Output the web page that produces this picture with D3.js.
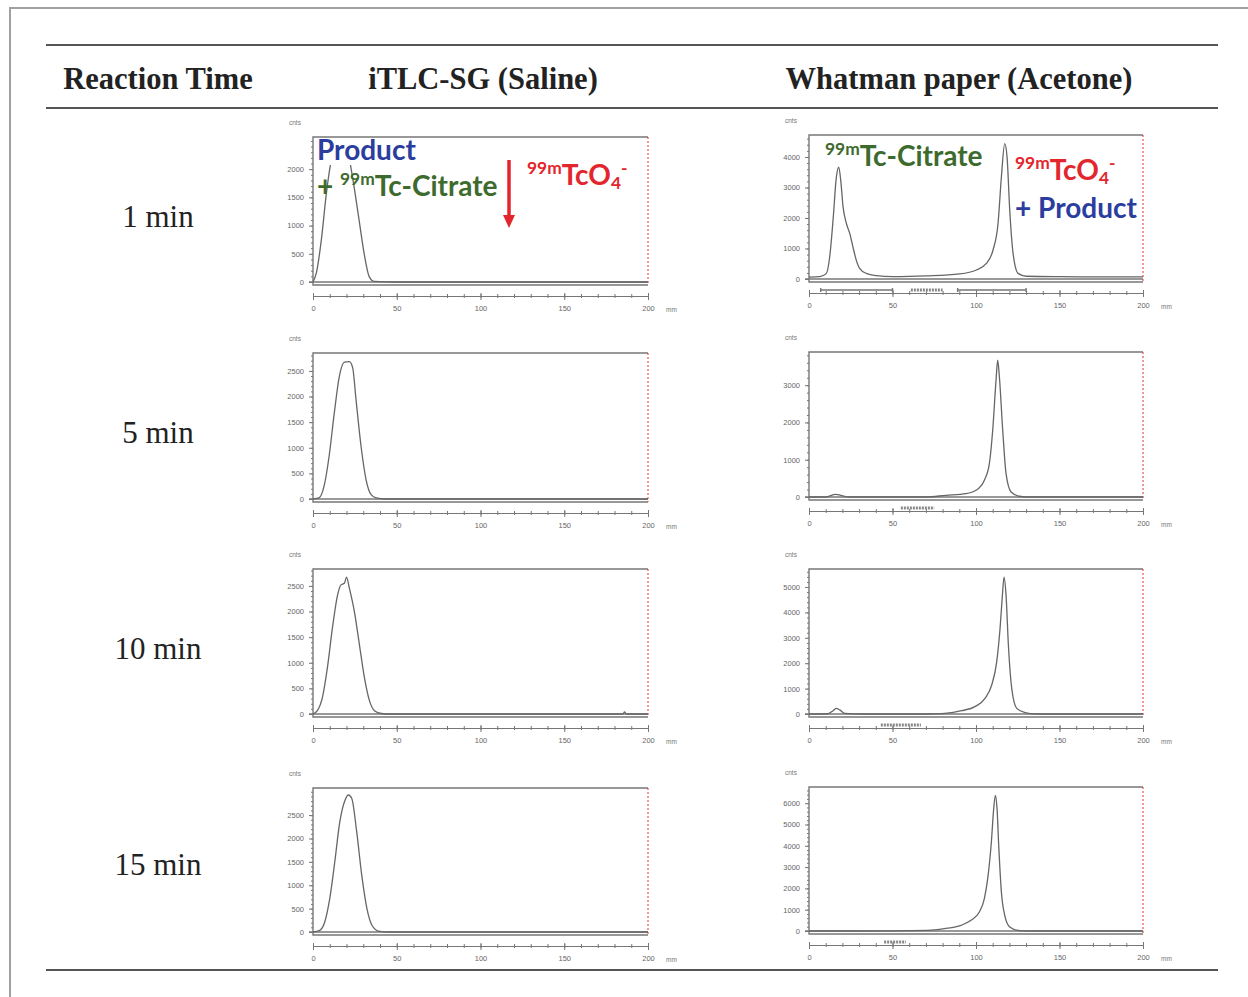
<!DOCTYPE html>
<meta charset="utf-8">
<script src="https://d3js.org/d3.v7.min.js"></script>
<style>
body { margin: 0; background: #fff; }
svg { display: block; }
.head { font-family: "Liberation Serif", "Times New Roman", serif; font-weight: bold; font-size: 30.5px; fill: #222; }
.rowlab { font-family: "Liberation Serif", "Times New Roman", serif; font-size: 31px; fill: #222; }
.axis text { font-family: "Liberation Sans", Arial, sans-serif; font-size: 7.5px; fill: #666; }
.axis path, .axis line { stroke: #777; }
.note { font-family: Lato, "Open Sans", sans-serif; font-weight: bold; }
</style>
<body>
<div class="chart"></div>
<script>

// table text
var colHeaders = ["Reaction Time", "iTLC-SG (Saline)", "Whatman paper (Acetone)"];
var rowLabels = ["1 min", "5 min", "10 min", "15 min"];
var xTicks = [0, 50, 100, 150, 200];

// iTLC-SG (saline) radio-chromatograms, [distance mm, counts]
var saline1 = [[0,0],[2,160],[5,750],[8,1575],[11,2165],[13,2340],[16,2420],[19,2400],[21.5,2200],[24.5,1690],[27.5,1100],[30.5,510],[33.5,100],[36.5,10],[50,0],[200,0]];
var saline5 = [[0,0],[3.6,20],[6.6,250],[9.6,830],[12.7,1675],[15.7,2390],[18.7,2670],[21.7,2680],[23.7,2560],[25.7,1935],[28.7,1025],[31.7,375],[34.7,85],[37.8,20],[42.8,0],[200,0]];
var saline10 = [[0,0],[2.6,65],[5.6,320],[8.6,905],[11.6,1680],[14.7,2325],[16.7,2520],[18.7,2550],[20,2670],[21.7,2455],[24.7,2000],[27.7,1355],[30.7,710],[33.7,260],[36.7,65],[40.8,10],[45.8,0],[185,0],[186,40],[187,0],[200,0]];
var saline15 = [[0,0],[4,35],[7,215],[10,715],[13,1500],[16,2355],[19.1,2820],[21.1,2930],[23.1,2860],[26.1,2140],[29.1,1215],[32.2,500],[35.2,145],[39.2,20],[45,0],[200,0]];

// Whatman paper (acetone) radio-chromatograms, [distance mm, counts]
var acetone1 = [[0,60],[6.4,75],[10.4,185],[12.4,730],[14.4,1930],[16.4,3345],[17.8,3670],[19,3235],[20.4,2365],[22.4,1820],[24.4,1495],[26.3,1055],[28.3,620],[30.3,350],[34.3,185],[40.3,110],[50.3,75],[70.3,100],[90.2,165],[100.2,295],[106.2,510],[110.2,950],[113.2,1820],[115.2,3345],[117.2,4435],[118.6,3995],[120.2,2255],[122.2,840],[125.2,185],[130.1,90],[150.1,75],[170,70],[200,70]];
var acetone5 = [[0,0],[10,0],[16,70],[19,45],[24,0],[70,0],[82,45],[94,90],[100,180],[105,450],[108,895],[110,1790],[112,3135],[113,3670],[114,3225],[116,1790],[118,625],[121,135],[126,20],[130,0],[200,0]];
var acetone10 = [[0,0],[11.4,10],[14.4,130],[16.4,220],[18.4,160],[21.4,25],[31.4,0],[71.4,0],[81.4,25],[91.4,130],[99.4,290],[105.4,615],[109.4,1140],[112.4,2055],[114.4,3365],[115.8,4670],[116.8,5390],[118,4670],[119.4,2710],[121.4,1010],[124.4,220],[129.4,50],[135.4,0],[200,0]];
var acetone15 = [[0,0],[31,0],[71,30],[81,110],[91,265],[97,500],[102,890],[105,1520],[107,2455],[109.2,4180],[110.6,5745],[111.6,6370],[112.6,5745],[113.6,4020],[115.2,1830],[117.2,735],[120.2,190],[125.2,30],[130,0],[200,0]];

// regions of interest marked under the acetone traces, [from mm, to mm]
var acetoneRois = [[[7,50],[61,80],[89,130]], [[55,75]], [[43,67]], [[45,58]]];

// y axes: top of axis (counts), highest labelled tick, label step
var salineTop = [2570, 2850, 2830, 3080];
var salineTickMax = [2000, 2500, 2500, 2500];
var acetoneTop = [4720, 3890, 5710, 6760];
var acetoneTickMax = [4000, 3000, 5000, 6000];
var salineStep = 500, acetoneStep = 1000;

// page layout
var W = 1248, H = 997;
var svg = d3.select(".chart").append("svg")
    .attr("width", W)
    .attr("height", H);

// outer border and table rules
svg.append("path")
    .attr("d", "M10,1000 V8 H1250")
    .attr("fill", "none")
    .attr("stroke", "#a0a0a0")
    .attr("stroke-width", 2);

[45, 108, 970].forEach(function(y) {
  svg.append("line")
      .attr("x1", 46).attr("x2", 1218)
      .attr("y1", y).attr("y2", y)
      .attr("stroke", "#555")
      .attr("stroke-width", 2);
});

var headX = [158, 483, 959];
colHeaders.forEach(function(t, i) {
  svg.append("text")
      .attr("class", "head")
      .attr("x", headX[i])
      .attr("y", 89)
      .attr("text-anchor", "middle")
      .text(t);
});

var rowY = [227, 443, 659, 875];
rowLabels.forEach(function(t, i) {
  svg.append("text")
      .attr("class", "rowlab")
      .attr("x", 158)
      .attr("y", rowY[i])
      .attr("text-anchor", "middle")
      .text(t);
});

// one chromatogram panel
function panel(data, yMax, tickMax, step, box, rois) {
  var x = d3.scaleLinear().domain([0, 200]).range([box.x0, box.x1]);
  var y = d3.scaleLinear().domain([0, yMax]).range([box.zero, box.top]);
  var g = svg.append("g");

  // frame: top, left, bottom; right edge dashed red
  g.append("path")
      .attr("d", "M" + box.x1 + "," + box.top + " H" + box.x0 + " V" + (box.zero + 3) + " H" + box.x1)
      .attr("fill", "none")
      .attr("stroke", "#777")
      .attr("stroke-width", 1.4);
  g.append("line")
      .attr("x1", box.x1).attr("x2", box.x1)
      .attr("y1", box.top).attr("y2", box.zero + 3)
      .attr("stroke", "#d9343a")
      .attr("stroke-dasharray", "2,2");

  // zero line
  g.append("line")
      .attr("x1", x(0) - 4).attr("x2", box.x1)
      .attr("y1", y(0)).attr("y2", y(0))
      .attr("stroke", "#777")
      .attr("stroke-width", 1.3);

  // y axis, labels + minor ticks
  g.append("g")
      .attr("class", "axis")
      .attr("transform", "translate(" + box.x0 + ",0)")
      .call(d3.axisLeft(y).tickValues(d3.range(0, tickMax + 1, step)).tickSize(4).tickPadding(5).tickFormat(d3.format("d")))
      .call(function(a) { a.select(".domain").remove(); });
  g.append("g")
      .attr("class", "axis")
      .attr("transform", "translate(" + box.x0 + ",0)")
      .call(d3.axisLeft(y).tickValues(d3.range(0, yMax, step / 5)).tickSize(2).tickFormat(""))
      .call(function(a) { a.select(".domain").remove(); });

  // cnts unit
  g.append("text")
      .attr("x", box.x0 - 24)
      .attr("y", box.top - 12)
      .attr("font-family", "Liberation Sans, sans-serif")
      .attr("font-size", 6.5)
      .attr("fill", "#777")
      .text("cnts");

  // x axis under the frame
  var ax = box.zero + 14;
  g.append("g")
      .attr("class", "axis")
      .attr("transform", "translate(0," + ax + ")")
      .call(d3.axisBottom(x).tickValues(xTicks).tickSize(4).tickPadding(6))
      .call(function(a) { a.selectAll(".tick line").attr("y1", -3); });
  g.append("g")
      .attr("class", "axis")
      .attr("transform", "translate(0," + ax + ")")
      .call(d3.axisBottom(x).tickValues(d3.range(0, 201, 10)).tickSize(2).tickFormat(""))
      .call(function(a) { a.select(".domain").remove(); a.selectAll(".tick line").attr("y1", -2); });
  g.append("text")
      .attr("x", x(200) + 18)
      .attr("y", ax + 16)
      .attr("font-family", "Liberation Sans, sans-serif")
      .attr("font-size", 6.5)
      .attr("fill", "#777")
      .text("mm");

  // regions of interest: wide ones as brackets, narrow ones as a bar
  (rois || []).forEach(function(r) {
    var ry = ax - 3;
    if (r[1] - r[0] > 30) {
      g.append("path")
          .attr("d", "M" + x(r[0]) + "," + (ry - 2) + " V" + (ry + 2) + " M" + x(r[0]) + "," + ry + " H" + x(r[1]) + " M" + x(r[1]) + "," + (ry - 2) + " V" + (ry + 2))
          .attr("fill", "none")
          .attr("stroke", "#777")
          .attr("stroke-width", 1.4);
    } else {
      g.append("line")
          .attr("x1", x(r[0])).attr("x2", x(r[1]))
          .attr("y1", ry).attr("y2", ry)
          .attr("stroke", "#888")
          .attr("stroke-width", 3)
          .attr("stroke-dasharray", "2,1");
    }
  });

  // trace
  var line = d3.line()
      .x(function(d) { return x(d[0]); })
      .y(function(d) { return y(d[1]); })
      .curve(d3.curveMonotoneX);
  g.append("path")
      .datum(data)
      .attr("d", line)
      .attr("fill", "none")
      .attr("stroke", "#666")
      .attr("stroke-width", 1.3);
}

var salineData = [saline1, saline5, saline10, saline15];
var acetoneData = [acetone1, acetone5, acetone10, acetone15];
var leftTop = [137, 353, 569, 788], leftZero = [282, 499, 714, 932];
var rightTop = [135, 352, 569, 787], rightZero = [279, 497, 714, 931];

for (var i = 0; i < 4; i++) {
  panel(salineData[i], salineTop[i], salineTickMax[i], salineStep, {x0: 313, x1: 648, top: leftTop[i], zero: leftZero[i]});
  panel(acetoneData[i], acetoneTop[i], acetoneTickMax[i], acetoneStep, {x0: 809, x1: 1143, top: rightTop[i], zero: rightZero[i]}, acetoneRois[i]);
}

// labels with super/subscripts: parts = [text, "n"|"sup"|"sub"]
function note(xp, yp, size, color, parts, boxed) {
  var t = svg.append("text")
      .attr("class", "note")
      .attr("x", xp)
      .attr("y", yp)
      .attr("fill", color)
      .attr("font-size", size);
  parts.forEach(function(p) {
    var s = t.append("tspan").text(p[0]);
    if (p[1] == "sup") s.attr("y", yp - size * 0.38).attr("font-size", size * 0.62);
    else if (p[1] == "sub") s.attr("y", yp + size * 0.16).attr("font-size", size * 0.62);
    else s.attr("y", yp);
  });
  // white patch behind the glyphs only (keeps the frame line above visible)
  if (boxed) {
    var b = t.node().getBBox();
    svg.insert("rect", function() { return t.node(); })
        .attr("x", b.x).attr("y", yp - size * 0.72)
        .attr("width", b.width).attr("height", size * 0.9)
        .attr("fill", "#fff");
  }
}

var blue = "#2b3d9e", green = "#3d6b2e", red = "#e3262d";

note(317, 160, 28, blue, [["Product", "n"]], true);
note(317, 196, 28, green, [["+ ", "n"], ["99m", "sup"], ["Tc-Citrate", "n"]]);
note(527, 185, 28, red, [["99m", "sup"], ["TcO", "n"], ["4", "sub"], ["-", "sup"]]);

svg.append("line")
    .attr("x1", 509).attr("x2", 509)
    .attr("y1", 160).attr("y2", 218)
    .attr("stroke", red)
    .attr("stroke-width", 3.5);
svg.append("path")
    .attr("d", "M503,215 L515,215 L509,228 Z")
    .attr("fill", red);

note(825, 166, 28, green, [["99m", "sup"], ["Tc-Citrate", "n"]]);
note(1015, 180, 28, red, [["99m", "sup"], ["TcO", "n"], ["4", "sub"], ["-", "sup"]]);
note(1015, 218, 28, blue, [["+ Product", "n"]]);

</script>
</body>
</html>
